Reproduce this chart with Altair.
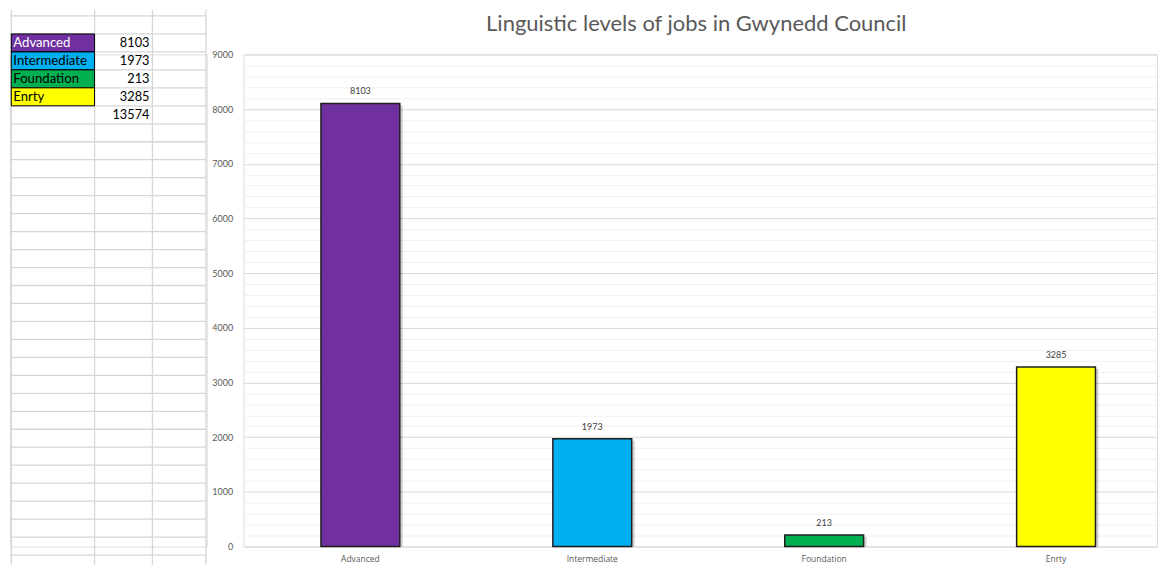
import altair as alt
import pandas as pd

# ---------------- data ----------------
categories = ["Advanced", "Intermediate", "Foundation", "Enrty"]
values = [8103, 1973, 213, 3285]
total_value = 13574
bar_colors = ["#7030A0", "#00B0F0", "#00B050", "#FFFF00"]
cell_text_colors = ["#FFFFFF", "#000000", "#000000", "#000000"]
y_major_ticks = [0, 1000, 2000, 3000, 4000, 5000, 6000, 7000, 8000, 9000]
chart_title = "Linguistic levels of jobs in Gwynedd Council"

# ---------------- layout constants ----------------
PLOT_W, PLOT_H = 915, 493
PLOT_TOP = 44.7          # canvas y of the bar plot top
CANVAS_H = 556
TABLE_W = 197
ROW_PX = 18
FIRST_ROW_LINE = 6.2     # canvas y of first spreadsheet row line
COL_EDGES = [1.3, 84.7, 142.7, 196.3]
N_ROW_LINES = 31
GRID_COLOR = "#d6d6d6"
MINOR_STEP = 200

# table scales: x in table pixels, y in spreadsheet-row units
x_tab = alt.Scale(domain=[0, TABLE_W], range=[0, TABLE_W], nice=False, zero=False)
row_top = -FIRST_ROW_LINE / ROW_PX
row_bottom = (CANVAS_H - FIRST_ROW_LINE) / ROW_PX
y_tab = alt.Scale(domain=[row_top, row_bottom],
                  range=[-PLOT_TOP, CANVAS_H - PLOT_TOP], nice=False, zero=False)

# ---------------- spreadsheet table (left) ----------------
table_df = pd.DataFrame({
    "label": categories,
    "value": values,
    "fill": bar_colors,
    "tcolor": cell_text_colors,
    "row": list(range(1, len(categories) + 1)),
})
total_df = pd.DataFrame({"value": [total_value], "row": [len(categories) + 1]})
values_df = pd.concat([table_df[["value", "row"]], total_df], ignore_index=True)

hlines_df = pd.DataFrame({"k": list(range(N_ROW_LINES))})
vlines_df = pd.DataFrame({"xe": COL_EDGES})

hlines = alt.Chart(hlines_df).transform_calculate(
    x0="0", x1=str(COL_EDGES[-1])
).mark_rule(color=GRID_COLOR, strokeWidth=1.3).encode(
    x=alt.X("x0:Q", scale=x_tab, axis=None),
    x2="x1:Q",
    y=alt.Y("k:Q", scale=y_tab, axis=None),
)
vlines = alt.Chart(vlines_df).transform_calculate(
    y0=str(row_top), y1=str(row_bottom)
).mark_rule(color=GRID_COLOR, strokeWidth=1.3).encode(
    x=alt.X("xe:Q", scale=x_tab, axis=None),
    y=alt.Y("y0:Q", scale=y_tab, axis=None),
    y2="y1:Q",
)
cells = alt.Chart(table_df).transform_calculate(
    xa=str(COL_EDGES[0]), xb=str(COL_EDGES[1]), r1="datum.row + 1"
).mark_rect(stroke="#000000", strokeWidth=1).encode(
    x=alt.X("xa:Q", scale=x_tab, axis=None),
    x2="xb:Q",
    y=alt.Y("row:Q", scale=y_tab, axis=None),
    y2="r1:Q",
    fill=alt.Fill("fill:N", scale=None),
)
cell_labels = alt.Chart(table_df).transform_calculate(
    tx=str(COL_EDGES[0] + 2), ty="datum.row + 0.5"
).mark_text(align="left", baseline="middle", font="Lato", fontSize=13.2).encode(
    x=alt.X("tx:Q", scale=x_tab, axis=None),
    y=alt.Y("ty:Q", scale=y_tab, axis=None),
    text="label:N",
    color=alt.Color("tcolor:N", scale=None),
)
cell_values = alt.Chart(values_df).transform_calculate(
    tx=str(COL_EDGES[2] - 3), ty="datum.row + 0.5"
).mark_text(align="right", baseline="middle", font="Lato", fontSize=12.8, color="#000000").encode(
    x=alt.X("tx:Q", scale=x_tab, axis=None),
    y=alt.Y("ty:Q", scale=y_tab, axis=None),
    text=alt.Text("value:Q", format="d"),
)
table = alt.layer(hlines, vlines, cells, cell_labels, cell_values).properties(
    width=TABLE_W, height=PLOT_H
)

# ---------------- bar chart (right) ----------------
bar_df = pd.DataFrame({"category": categories, "value": values, "color": bar_colors})

x_enc = alt.X(
    "category:N", sort=categories,
    scale=alt.Scale(domain=categories, paddingInner=0.66, paddingOuter=0.2995, align=0.557),
    axis=alt.Axis(title=None, labelAngle=0, ticks=False, domain=False, grid=False,
                  labelPadding=8, labelFont="Open Sans", labelFontSize=8.5,
                  labelColor="#595959"),
)
major_test = "datum.value % 1000 === 0"
y_enc = alt.Y(
    "value:Q",
    scale=alt.Scale(domain=[y_major_ticks[0], y_major_ticks[-1]], nice=False),
    axis=alt.Axis(
        title=None,
        values=list(range(y_major_ticks[0], y_major_ticks[-1] + 1, MINOR_STEP)),
        format="d",
        labelExpr=f"{major_test} ? datum.label : ''",
        labelOverlap=False,
        ticks=False, domain=False, labelPadding=11,
        labelFont="Lato", labelFontSize=9, labelColor="#595959",
        gridColor={"condition": {"test": major_test, "value": "#d9d9d9"}, "value": "#f0f0f0"},
        gridWidth=1,
    ),
)
base = alt.Chart(bar_df).encode(x=x_enc, y=y_enc)

shadow = base.mark_bar(color="#000000", opacity=0.18, xOffset=3, yOffset=2, clip=True)
bars = base.mark_bar(stroke="#1f1f1f", strokeWidth=1.5).encode(
    fill=alt.Fill("color:N", scale=None)
)
bar_labels = base.mark_text(dy=-9, baseline="alphabetic", font="Lato", fontSize=9,
                            color="#404040").encode(text=alt.Text("value:Q", format="d"))

bar_chart = alt.layer(shadow, bars, bar_labels).properties(
    width=PLOT_W, height=PLOT_H,
    title=alt.TitleParams(
        text=chart_title, font="Lato", fontSize=22, fontWeight="normal",
        color="#595959", anchor="middle", frame="group", baseline="alphabetic",
        offset=17.5, dx=-4, dy=20,
    ),
)

chart = alt.hconcat(table, bar_chart, spacing=3).properties(padding=0).configure_view(
    stroke=None
).configure(background="#ffffff")

chart.save("out.html", embed_options={"renderer": "svg", "actions": False})
